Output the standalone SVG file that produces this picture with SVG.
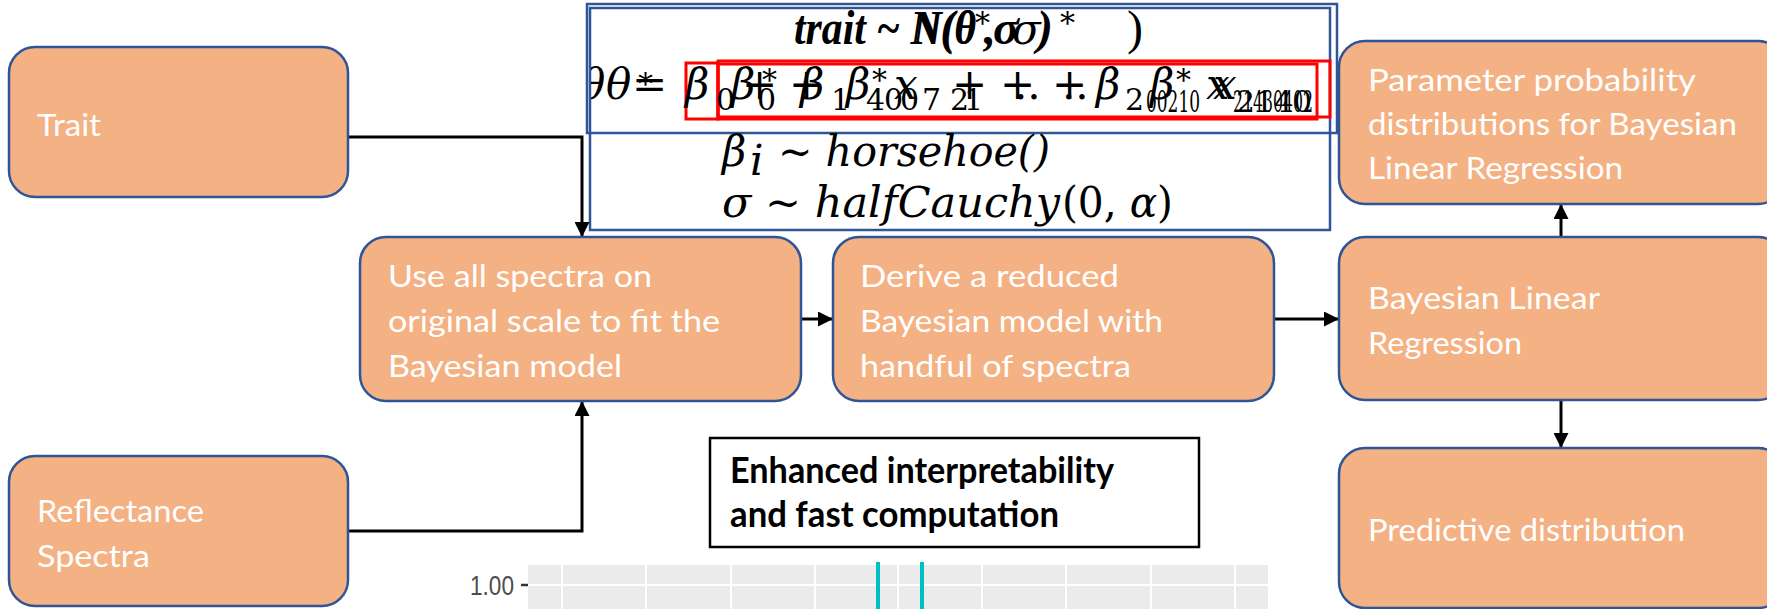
<svg xmlns="http://www.w3.org/2000/svg" width="1767" height="609" viewBox="0 0 1767 609">
  <style>
    .box{fill:#F4B183;stroke:#2F5597;stroke-width:2.5}
    .lbl{font-family:Lato,"Open Sans","Liberation Sans",sans-serif;font-size:30px;fill:#FFFFFF}
    .conn{fill:none;stroke:#000000;stroke-width:3}
    .frame{fill:none;stroke:#2F5597;stroke-width:2.5}
    .hl{fill:none;stroke:#FF0000;stroke-width:3}
    .bi{font-family:"Liberation Serif",serif;font-style:italic;font-weight:bold;font-size:48px;fill:#000}
    .m{font-family:"DejaVu Serif",serif;font-style:italic;font-size:42px;fill:#000}
    .r{font-family:"DejaVu Serif",serif;font-size:42px;fill:#000}
    .sb{font-family:"DejaVu Serif",serif;font-size:30px;fill:#000}
    .note{font-family:Lato,"Liberation Sans",sans-serif;font-weight:bold;font-size:37px;fill:#000}
    .grid{stroke:#FFFFFF;stroke-width:2}
    .hit{stroke:#00BFC4;stroke-width:4}
    .axis{font-family:"Liberation Sans",sans-serif;font-size:27px;fill:#4D4D4D}
  </style>
  <defs>
    <marker id="arrow" markerUnits="userSpaceOnUse" markerWidth="15" markerHeight="15" refX="15" refY="7.5" orient="auto">
      <path d="M0,0 L15,7.5 L0,15 Z" fill="#000000"/>
    </marker>
    <clipPath id="eqclip">
      <rect x="591" y="50" width="740" height="80"/>
    </clipPath>
  </defs>

  <rect width="1767" height="609" fill="#FFFFFF"/>

  <!-- model specification panel -->
  <g id="formula">
    <rect class="frame" x="587" y="4" width="750" height="129"/>
    <rect class="frame" x="590" y="8" width="740" height="222"/>
    <rect class="hl" x="686" y="63" width="32" height="56"/>
    <rect class="hl" x="718" y="61" width="612" height="56"/>
    <rect class="hl" x="718" y="64" width="599" height="55"/>

    <!-- likelihood -->
    <text class="bi" x="794" y="44" textLength="182" lengthAdjust="spacingAndGlyphs">trait ~ N(θ</text>
    <text class="bi" x="913" y="44" textLength="63" lengthAdjust="spacingAndGlyphs">N(θ</text>
    <text class="sb" x="975" y="33">*</text>
    <text class="bi" x="984" y="44">,</text>
    <text class="bi" x="993" y="44">σ</text>
    <text class="m" x="1012" y="44" font-size="40">σ</text>
    <text class="bi" x="1037" y="44">)</text>
    <text class="sb" x="1060" y="33">*</text>
    <text x="1127" y="44" font-family="Liberation Serif, serif" font-size="48">)</text>

    <!-- linear predictor -->
    <g clip-path="url(#eqclip)">
      <text class="m" x="580" y="99">θ</text>
      <text class="m" x="606" y="99">θ</text>
      <text class="sb" x="638" y="94">*</text>
      <text class="r" x="632" y="99">=</text>
      <text class="m" x="685" y="99">β</text>
      <text class="sb" x="716" y="110">0</text>
      <text class="m" x="731" y="99">β</text>
      <text class="r" x="742" y="99">+</text>
      <text class="sb" x="757" y="110">0</text>
      <text class="sb" x="762" y="90">*</text>
      <text class="r" x="789" y="99">+</text>
      <text class="m" x="800" y="99">β</text>
      <text class="sb" x="831" y="110">1</text>
      <text class="m" x="846" y="99">β</text>
      <text class="sb" x="872" y="90">*</text>
      <text class="sb" x="866" y="110">4</text>
      <text class="sb" x="884" y="110">0</text>
      <text class="sb" x="900" y="110">0</text>
      <text class="m" x="894" y="99">x</text>
      <text class="sb" x="922" y="110">7</text>
      <text class="sb" x="950" y="110">2</text>
      <text class="sb" x="964" y="110">1</text>
      <text class="r" x="952" y="99">+</text>
      <text class="r" x="1000" y="99">+</text>
      <text class="r" x="1014" y="99">..</text>
      <text class="r" x="1052" y="99">+</text>
      <text class="r" x="1062" y="99">..</text>
      <text class="m" x="1096" y="99">β</text>
      <text class="sb" x="1125" y="110">2</text>
      <text class="m" x="1150" y="99">β</text>
      <text class="sb" x="1146" y="112" textLength="54" lengthAdjust="spacingAndGlyphs">00210</text>
      <text class="sb" x="1176" y="90">*</text>
      <text class="m" x="1206" y="99">x</text>
      <text class="m" x="1213" y="99">x</text>
      <text class="sb" x="1233" y="112" textLength="80" lengthAdjust="spacingAndGlyphs">21430402</text>
      <text class="sb" x="1236" y="112" textLength="76" lengthAdjust="spacingAndGlyphs">2140</text>
    </g>

    <!-- priors -->
    <text class="m" x="722" y="166">β</text>
    <text class="m" x="750" y="175" font-size="30">i</text>
    <text class="m" x="778" y="166" textLength="272" lengthAdjust="spacingAndGlyphs">~ horsehoe()</text>
    <text class="m" x="722" y="217" textLength="338" lengthAdjust="spacingAndGlyphs">σ ~ halfCauchy</text>
    <text class="r" x="1062" y="217" textLength="111" lengthAdjust="spacingAndGlyphs">(0, <tspan font-style="italic">α</tspan>)</text>
  </g>

  <!-- connectors -->
  <g id="connectors">
    <path class="conn" d="M348,137 H582 V237" marker-end="url(#arrow)"/>
    <path class="conn" d="M348,531 H582 V401" marker-end="url(#arrow)"/>
    <path class="conn" d="M801,319 H833" marker-end="url(#arrow)"/>
    <path class="conn" d="M1274,319 H1339" marker-end="url(#arrow)"/>
    <path class="conn" d="M1561,237 V204" marker-end="url(#arrow)"/>
    <path class="conn" d="M1561,400 V448" marker-end="url(#arrow)"/>
  </g>

  <g id="trait">
    <rect class="box" x="9" y="47" width="339" height="150" rx="26"/>
    <text class="lbl" x="37" y="136" textLength="64" lengthAdjust="spacingAndGlyphs">Trait</text>
  </g>

  <g id="reflectance">
    <rect class="box" x="9" y="456" width="339" height="150" rx="26"/>
    <text class="lbl" x="37" y="522" textLength="167" lengthAdjust="spacingAndGlyphs">Reflectance</text>
    <text class="lbl" x="37" y="567" textLength="113" lengthAdjust="spacingAndGlyphs">Spectra</text>
  </g>

  <g id="full-model">
    <rect class="box" x="360" y="237" width="441" height="164" rx="26"/>
    <text class="lbl" x="388" y="287" textLength="264" lengthAdjust="spacingAndGlyphs">Use all spectra on</text>
    <text class="lbl" x="388" y="332" textLength="332" lengthAdjust="spacingAndGlyphs">original scale to fit the</text>
    <text class="lbl" x="388" y="377" textLength="234" lengthAdjust="spacingAndGlyphs">Bayesian model</text>
  </g>

  <g id="reduced-model">
    <rect class="box" x="833" y="237" width="441" height="164" rx="26"/>
    <text class="lbl" x="860" y="287" textLength="259" lengthAdjust="spacingAndGlyphs">Derive a reduced</text>
    <text class="lbl" x="860" y="332" textLength="303" lengthAdjust="spacingAndGlyphs">Bayesian model with</text>
    <text class="lbl" x="860" y="377" textLength="271" lengthAdjust="spacingAndGlyphs">handful of spectra</text>
  </g>

  <g id="parameter-distributions">
    <rect class="box" x="1339" y="41" width="445" height="163" rx="26"/>
    <text class="lbl" x="1368" y="91" textLength="328" lengthAdjust="spacingAndGlyphs">Parameter probability</text>
    <text class="lbl" x="1368" y="135" textLength="369" lengthAdjust="spacingAndGlyphs">distributions for Bayesian</text>
    <text class="lbl" x="1368" y="179" textLength="255" lengthAdjust="spacingAndGlyphs">Linear Regression</text>
  </g>

  <g id="bayesian-linear-regression">
    <rect class="box" x="1339" y="237" width="445" height="163" rx="26"/>
    <text class="lbl" x="1368" y="309" textLength="232" lengthAdjust="spacingAndGlyphs">Bayesian Linear</text>
    <text class="lbl" x="1368" y="354" textLength="154" lengthAdjust="spacingAndGlyphs">Regression</text>
  </g>

  <g id="predictive">
    <rect class="box" x="1339" y="448" width="445" height="160" rx="26"/>
    <text class="lbl" x="1368" y="541" textLength="317" lengthAdjust="spacingAndGlyphs">Predictive distribution</text>
  </g>

  <g id="callout">
    <rect x="710" y="438" width="489" height="109" fill="#FFFFFF" stroke="#000000" stroke-width="2.5"/>
    <text class="note" x="730" y="483" textLength="384" lengthAdjust="spacingAndGlyphs">Enhanced interpretability</text>
    <text class="note" x="730" y="527" textLength="329" lengthAdjust="spacingAndGlyphs">and fast computation</text>
  </g>

  <!-- coefficient plot, top strip -->
  <g id="plot">
    <rect x="528" y="565" width="740" height="50" fill="#EBEBEB"/>
    <line class="grid" x1="528" y1="585" x2="1268" y2="585" stroke-width="2.5"/>
    <line class="grid" x1="562" y1="565" x2="562" y2="609"/>
    <line class="grid" x1="646" y1="565" x2="646" y2="609"/>
    <line class="grid" x1="731" y1="565" x2="731" y2="609"/>
    <line class="grid" x1="815" y1="565" x2="815" y2="609"/>
    <line class="grid" x1="898" y1="565" x2="898" y2="609"/>
    <line class="grid" x1="982" y1="565" x2="982" y2="609"/>
    <line class="grid" x1="1066" y1="565" x2="1066" y2="609"/>
    <line class="grid" x1="1151" y1="565" x2="1151" y2="609"/>
    <line class="grid" x1="1235" y1="565" x2="1235" y2="609"/>
    <line class="hit" x1="878" y1="562" x2="878" y2="609"/>
    <line class="hit" x1="922" y1="562" x2="922" y2="609"/>
    <line x1="521" y1="585" x2="528" y2="585" stroke="#333333" stroke-width="2.5"/>
    <text class="axis" x="470" y="595" textLength="44" lengthAdjust="spacingAndGlyphs">1.00</text>
  </g>
</svg>
